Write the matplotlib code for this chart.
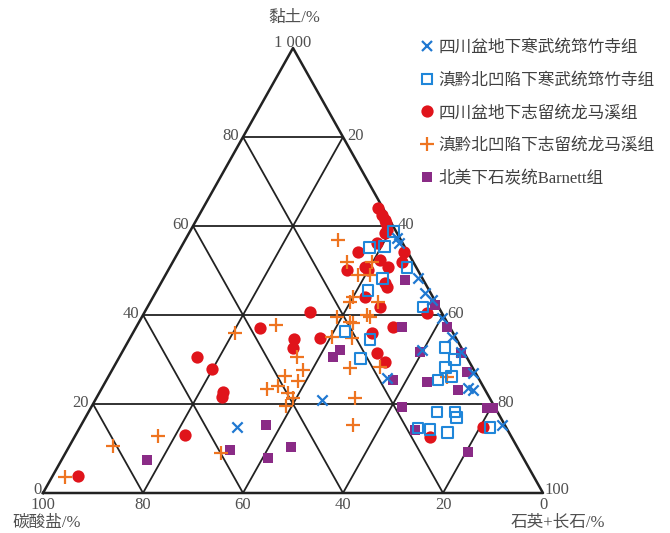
import matplotlib
matplotlib.use("Agg")
import matplotlib.pyplot as plt
from matplotlib.lines import Line2D
import numpy as np

# 黏土 / 碳酸盐 含量 (%)，石英+长石 = 100 - 黏土 - 碳酸盐
sc_qzs_clay = [56.2, 48.3, 44.9, 43.4, 39.3, 35.1, 31.7, 27.0, 23.6, 23.1, 15.3, 25.8, 32.1, 14.8, 20.9, 57.3]
sc_qzs_carb = [0.8, 0.8, 1.1, 0.6, 0.6, 0.6, 0.6, 0.6, 3.2, 2.4, 0.6, 18.3, 8.1, 53.8, 33.8, 0.6]

dqb_qzs_clay = [58.7, 55.1, 55.3, 50.6, 48.3, 45.6, 41.8, 36.2, 34.4, 30.3, 32.8, 29.9, 28.3, 26.1,
                25.4, 18.2, 18.2, 16.9, 14.6, 14.2, 13.7, 14.8]
dqb_qzs_carb = [0.6, 7.1, 4.0, 1.9, 8.0, 12.2, 3.1, 21.5, 17.4, 21.4, 3.2, 2.7, 5.4, 5.2,
                8.3, 12.1, 8.5, 8.8, 17.7, 15.5, 12.3, 3.2]

sc_lmx_clay = [64.0, 62.5, 61.3, 60.7, 59.1, 58.4, 54.2, 56.2, 52.4, 50.8, 50.1, 50.8, 50.1, 47.2,
               46.3, 51.9, 54.2, 44.0, 40.7, 41.8, 40.4, 37.3, 34.8, 36.0, 31.5, 29.4, 12.6, 14.8,
               37.1, 34.6, 32.6, 30.6, 27.9, 22.7, 21.6, 13.0, 3.8]
sc_lmx_carb = [1.0, 1.0, 1.0, 1.0, 1.6, 2.4, 9.9, 5.1, 6.4, 5.6, 14.2, 10.2, 10.0, 8.0,
               8.1, 2.2, 0.8, 13.6, 26.3, 11.7, 3.0, 11.4, 27.2, 16.2, 17.5, 16.9, 16.3, 4.6,
               38.1, 32.5, 33.7, 53.9, 52.3, 52.7, 53.4, 65.1, 91.1]

dqb_lmx_clay = [37.8, 36.0, 30.6, 27.6, 26.3, 25.2, 23.4, 24.0, 22.5, 21.3, 19.6, 12.8, 10.6, 9.0,
                3.6, 56.9, 51.9, 49.0, 49.0, 51.9, 44.0, 42.9, 42.9, 40.0, 39.6, 38.2, 35.1, 39.6,
                38.4, 34.8, 28.1, 28.3, 21.3, 15.3, 26.1]
dqb_lmx_carb = [34.5, 43.6, 33.9, 34.2, 38.5, 36.4, 43.5, 41.0, 39.8, 39.3, 41.6, 70.6, 80.7, 59.9,
                93.8, 12.6, 13.2, 12.5, 10.1, 8.2, 16.0, 17.1, 11.5, 15.2, 21.4, 18.9, 24.7, 14.8,
                19.4, 20.8, 24.6, 18.4, 26.9, 30.4, 6.2]

barnett_clay = [47.9, 42.2, 37.3, 37.3, 31.5, 27.2, 23.1, 31.7, 24.9, 25.4, 19.3, 19.1, 19.1, 14.2,
                9.2, 15.3, 9.7, 7.9, 10.3, 7.4, 30.6, 32.1]
barnett_carb = [3.7, 0.6, 0.6, 9.6, 0.6, 1.6, 5.4, 8.8, 10.7, 17.3, 18.5, 1.6, 0.4, 18.5,
                10.4, 47.8, 57.8, 51.1, 45.2, 75.5, 26.7, 24.5]

series_names = ["四川盆地下寒武统筇竹寺组", "滇黔北凹陷下寒武统筇竹寺组", "四川盆地下志留统龙马溪组",
                "滇黔北凹陷下志留统龙马溪组", "北美下石炭统Barnett组"]
ticks = [0, 20, 40, 60, 80, 100]

FONT = ["Liberation Serif", "Noto Sans CJK SC", "DejaVu Sans"]
TXT = "#505050"
plt.rcParams["font.family"] = FONT


def tern(clay, carb):
    clay = np.asarray(clay, dtype=float)
    carb = np.asarray(carb, dtype=float)
    quartz = 100 - clay - carb
    return quartz + clay / 2, clay


fig = plt.figure(figsize=(6.7, 5.33), dpi=100)
# triangle spans x 43..543 px, y 48..493 px
ax = fig.add_axes([43 / 670, 40 / 533, 500 / 670, 445 / 533])
ax.set_xlim(0, 100)
ax.set_ylim(0, 100)
ax.axis("off")

# grid
gc = "#222222"
for v in ticks[1:-1]:
    for a, b in [((v, 100 - v), (v, 0)),           # 黏土 = v
                 ((0, v), (100 - v, v)),           # 碳酸盐 = v
                 ((0, 100 - v), (100 - v, 0))]:    # 石英+长石 = v
        x, y = tern([a[0], b[0]], [a[1], b[1]])
        ax.plot(x, y, color=gc, lw=1.3, solid_capstyle="butt", clip_on=False)
ox, oy = tern([0, 0, 100, 0], [100, 0, 0, 100])
ax.plot(ox, oy, color=gc, lw=1.8, clip_on=False)

# markers
styles = [
    dict(marker="x", color="#1f78d1", s=55, linewidths=1.6),
    dict(marker="s", facecolors="none", edgecolors="#1f86d9", s=62, linewidths=1.5),
    dict(marker="o", color="#e0141b", s=78, linewidths=0),
    dict(marker="+", color="#ee7420", s=110, linewidths=1.6),
    dict(marker="s", color="#8a2b86", s=58, linewidths=0),
]
data = [(sc_qzs_clay, sc_qzs_carb), (dqb_qzs_clay, dqb_qzs_carb), (sc_lmx_clay, sc_lmx_carb),
        (dqb_lmx_clay, dqb_lmx_carb), (barnett_clay, barnett_carb)]
zorders = [6, 5, 2, 4, 3]
for (clay, carb), st, z in zip(data, styles, zorders):
    x, y = tern(clay, carb)
    ax.scatter(x, y, zorder=z, clip_on=False, **st)

# tick labels
fs = 12
for v in ticks:
    if 0 < v < 100:
        ax.annotate(str(v), tern(v, 100 - v), xytext=(-3, 1), textcoords="offset points",
                    ha="right", va="center", fontsize=fs, color=TXT)
        ax.annotate(str(100 - v), tern(v, 0), xytext=(3, 1), textcoords="offset points",
                    ha="left", va="center", fontsize=fs, color=TXT)
    ax.annotate(str(v), tern(0, v), xytext=(0, -3), textcoords="offset points",
                ha="center", va="top", fontsize=fs, color=TXT)
ax.annotate("0", tern(0, 100), xytext=(-1, 2), textcoords="offset points",
            ha="right", va="center", fontsize=fs, color=TXT)
ax.annotate("100", tern(0, 0), xytext=(1, 2), textcoords="offset points",
            ha="left", va="center", fontsize=fs, color=TXT)
ax.annotate("1 000", tern(100, 0), xytext=(0, -2), textcoords="offset points",
            ha="center", va="bottom", fontsize=fs, color=TXT)

# axis titles
fig.text(294 / 670, 1 - 18 / 533, "黏土/%", ha="center", va="center", fontsize=12, color=TXT)
fig.text(47 / 670, 1 - 523 / 533, "碳酸盐/%", ha="center", va="center", fontsize=12, color=TXT)
fig.text(558 / 670, 1 - 523 / 533, "石英+长石/%", ha="center", va="center", fontsize=12, color=TXT)

# legend
handles = []
for name, st in zip(series_names, styles):
    mfc = st.get("color", st.get("facecolors"))
    mec = st.get("color", st.get("edgecolors"))
    ms = np.sqrt(st["s"])
    handles.append(Line2D([], [], ls="none", marker=st["marker"], markersize=ms,
                          markerfacecolor=mfc, markeredgecolor=mec,
                          markeredgewidth=st["linewidths"] if st["linewidths"] else 0,
                          label=name))
fig.legend(handles=handles, loc="upper left", bbox_to_anchor=(419 / 670, 1 - 40 / 533),
           frameon=False, fontsize=12, handlelength=0.9, handletextpad=0.25,
           labelspacing=1.0, borderpad=0, borderaxespad=0, labelcolor="#404040")

fig.savefig("out.png", dpi=100)
